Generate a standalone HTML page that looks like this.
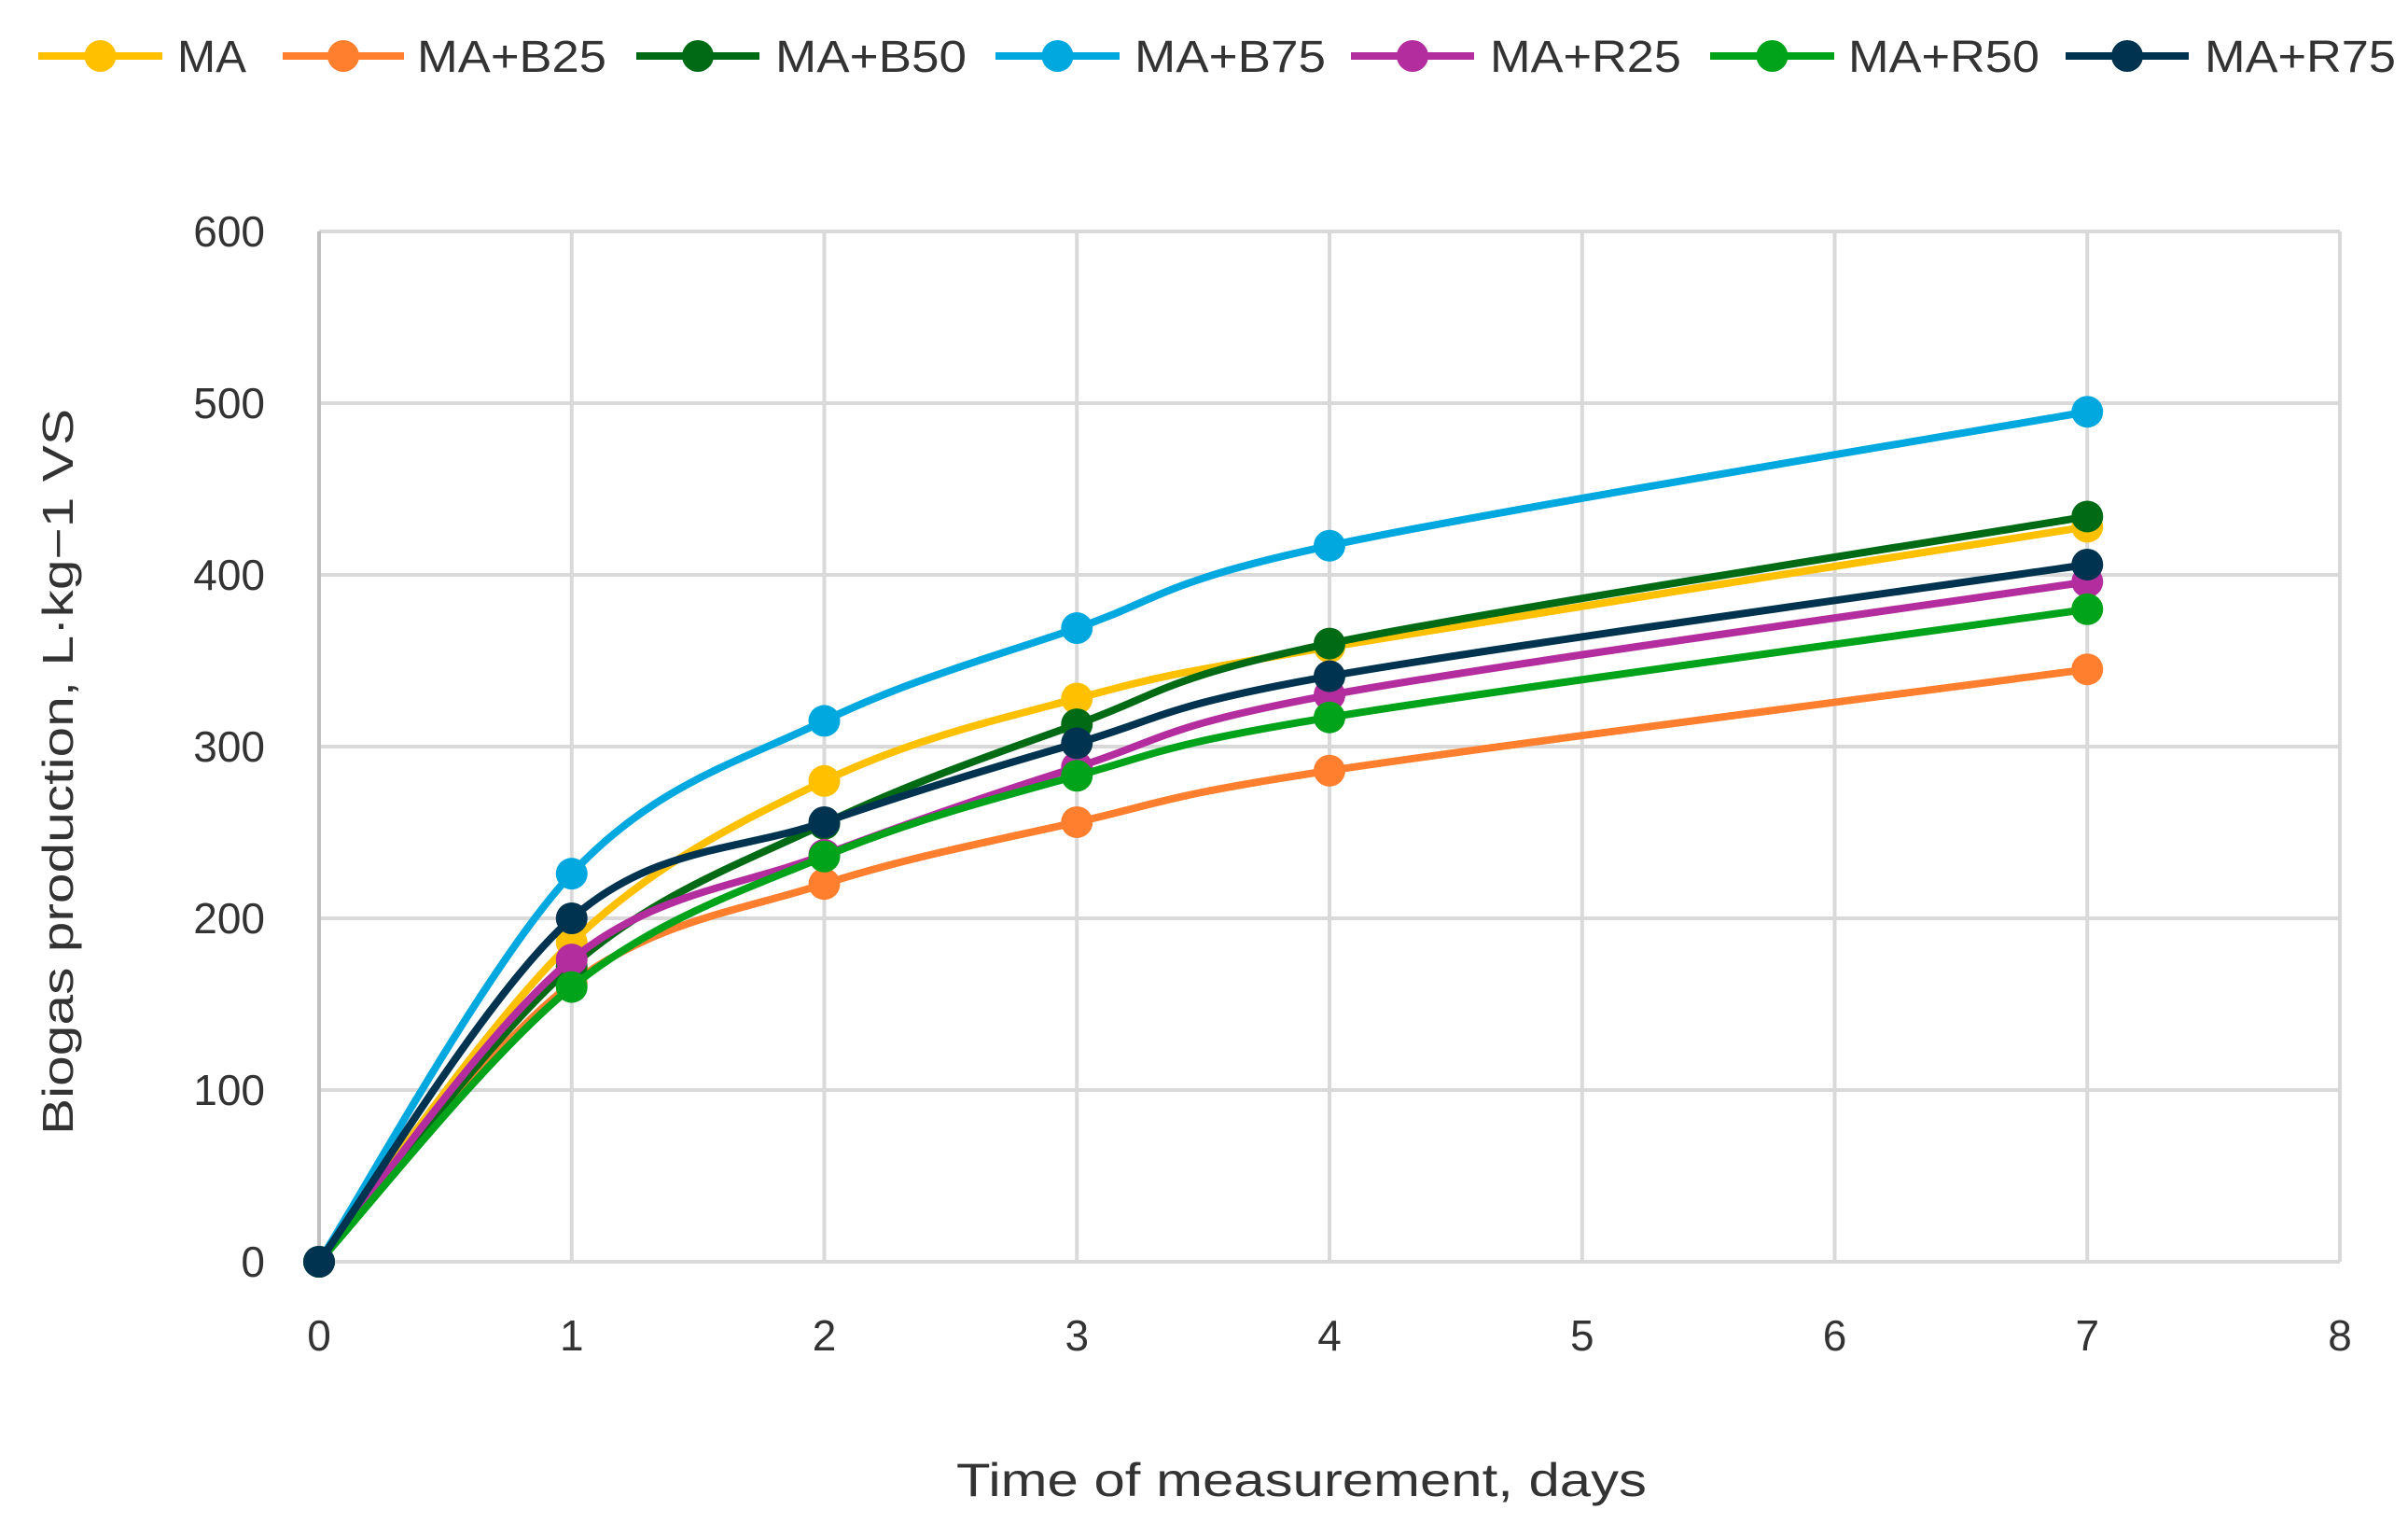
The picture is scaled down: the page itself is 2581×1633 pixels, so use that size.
<!DOCTYPE html>
<html><head><meta charset="utf-8"><style>
html,body{margin:0;padding:0;background:#fff;}
svg{display:block;font-family:"Liberation Sans",sans-serif;}
</style></head>
<body>
<svg id="chart" width="2581" height="1633" viewBox="0 0 2581 1633" xmlns="http://www.w3.org/2000/svg">
<g id="grid"></g>
<g id="series"></g>
<g id="legend"></g>
<text x="1395" y="1603" font-size="50" fill="#333" text-anchor="middle" textLength="740" lengthAdjust="spacingAndGlyphs">Time of measurement,  days</text>
<text transform="translate(78,827) rotate(-90)" font-size="46" fill="#333" text-anchor="middle" textLength="778" lengthAdjust="spacingAndGlyphs">Biogas production, L·kg−1 VS</text>
</svg>
<script>
const days = [0, 1, 2, 3, 4, 7];
const seriesNames = ["MA", "MA+B25", "MA+B50", "MA+B75", "MA+R25", "MA+R50", "MA+R75"];
const seriesColors = ["#ffc000", "#ff7f2f", "#006b14", "#00a8e0", "#b32d9f", "#00a31a", "#00334f"];
const valsMA  = [0, 186, 280, 328, 358, 428];
const valsB25 = [0, 162, 220, 256, 286, 345];
const valsB50 = [0, 172, 255, 313, 360, 434];
const valsB75 = [0, 226, 315, 369, 417, 495];
const valsR25 = [0, 176, 237, 288, 330, 396];
const valsR50 = [0, 160, 236, 283, 317, 380];
const valsR75 = [0, 200, 256, 302, 341, 406];
const seriesValues = [valsMA, valsB25, valsB50, valsB75, valsR25, valsR50, valsR75];
const xTicks = [0, 1, 2, 3, 4, 5, 6, 7, 8];
const yTicks = [0, 100, 200, 300, 400, 500, 600];

const NS = "http://www.w3.org/2000/svg";
const X0 = 342, X1 = 2508, Y0 = 1352, Y1 = 248;
const xs = v => X0 + (v - 0) / 8 * (X1 - X0);
const ys = v => Y0 - v / 600 * (Y0 - Y1);
function mk(tag, attrs, parent){const e=document.createElementNS(NS,tag);for(const k in attrs)e.setAttribute(k,attrs[k]);parent.appendChild(e);return e;}

const grid = document.getElementById('grid');
yTicks.forEach(t=>{
  const l = mk('line',{x1:X0,x2:X1,y1:ys(t),y2:ys(t),stroke:'#d9d9d9','stroke-width':4},grid);
  
  
  const tx = mk('text',{x:284,y:ys(t)+16,'font-size':46,fill:'#333','text-anchor':'end'},grid);
  tx.textContent = t;
  
  
});
xTicks.forEach(t=>{
  const l = mk('line',{x1:xs(t),x2:xs(t),y1:Y1,y2:Y0,stroke:t===0?'#bfbfbf':'#d9d9d9','stroke-width':4},grid);
  
  
  const tx = mk('text',{x:xs(t),y:1447,'font-size':46,fill:'#333','text-anchor':'middle'},grid);
  tx.textContent = t;
  
  
});

function smoothPath(pts){
  let d = `M${pts[0][0]},${pts[0][1]}`;
  const t = 0.5/3*2;
  for(let i=0;i<pts.length-1;i++){
    const p0=pts[Math.max(0,i-1)], p1=pts[i], p2=pts[i+1], p3=pts[Math.min(pts.length-1,i+2)];
    const c1=[p1[0]+(p2[0]-p0[0])*t/2, p1[1]+(p2[1]-p0[1])*t/2];
    const c2=[p2[0]-(p3[0]-p1[0])*t/2, p2[1]-(p3[1]-p1[1])*t/2];
    d += ` C${c1[0]},${c1[1]} ${c2[0]},${c2[1]} ${p2[0]},${p2[1]}`;
  }
  return d;
}
const sg = document.getElementById('series');
seriesValues.forEach((vals,si)=>{
  const g = mk('g',{},sg);
  
  
  const pts = vals.map((v,i)=>[xs(days[i]),ys(v)]);
  const p = mk('path',{d:smoothPath(pts),fill:'none',stroke:seriesColors[si],'stroke-width':8,'stroke-linejoin':'round'},g);
  
  
  pts.forEach(pt=>{
    const c = mk('circle',{cx:pt[0],cy:pt[1],r:17,fill:seriesColors[si]},g);
    
    
  });
});

const legendLine = [[41,174],[303,433],[682,814],[1067,1200],[1448,1580],[1833,1966],[2214,2346]];
const legendText = [[190,74],[447,203],[831,205],[1216,205],[1597,205],[1981,205],[2363,205]];
const lg = document.getElementById('legend');
seriesNames.forEach((n,i)=>{
  const g = mk('g',{},lg);
  
  
  mk('line',{x1:legendLine[i][0],x2:legendLine[i][1],y1:60,y2:60,stroke:seriesColors[i],'stroke-width':8},g);
  mk('circle',{cx:(legendLine[i][0]+legendLine[i][1])/2,cy:60,r:17,fill:seriesColors[i]},g);
  const t = mk('text',{x:legendText[i][0],y:77,'font-size':48,fill:'#333',textLength:legendText[i][1],lengthAdjust:'spacingAndGlyphs'},g);
  t.textContent = n;
});
</script>
</body></html>
